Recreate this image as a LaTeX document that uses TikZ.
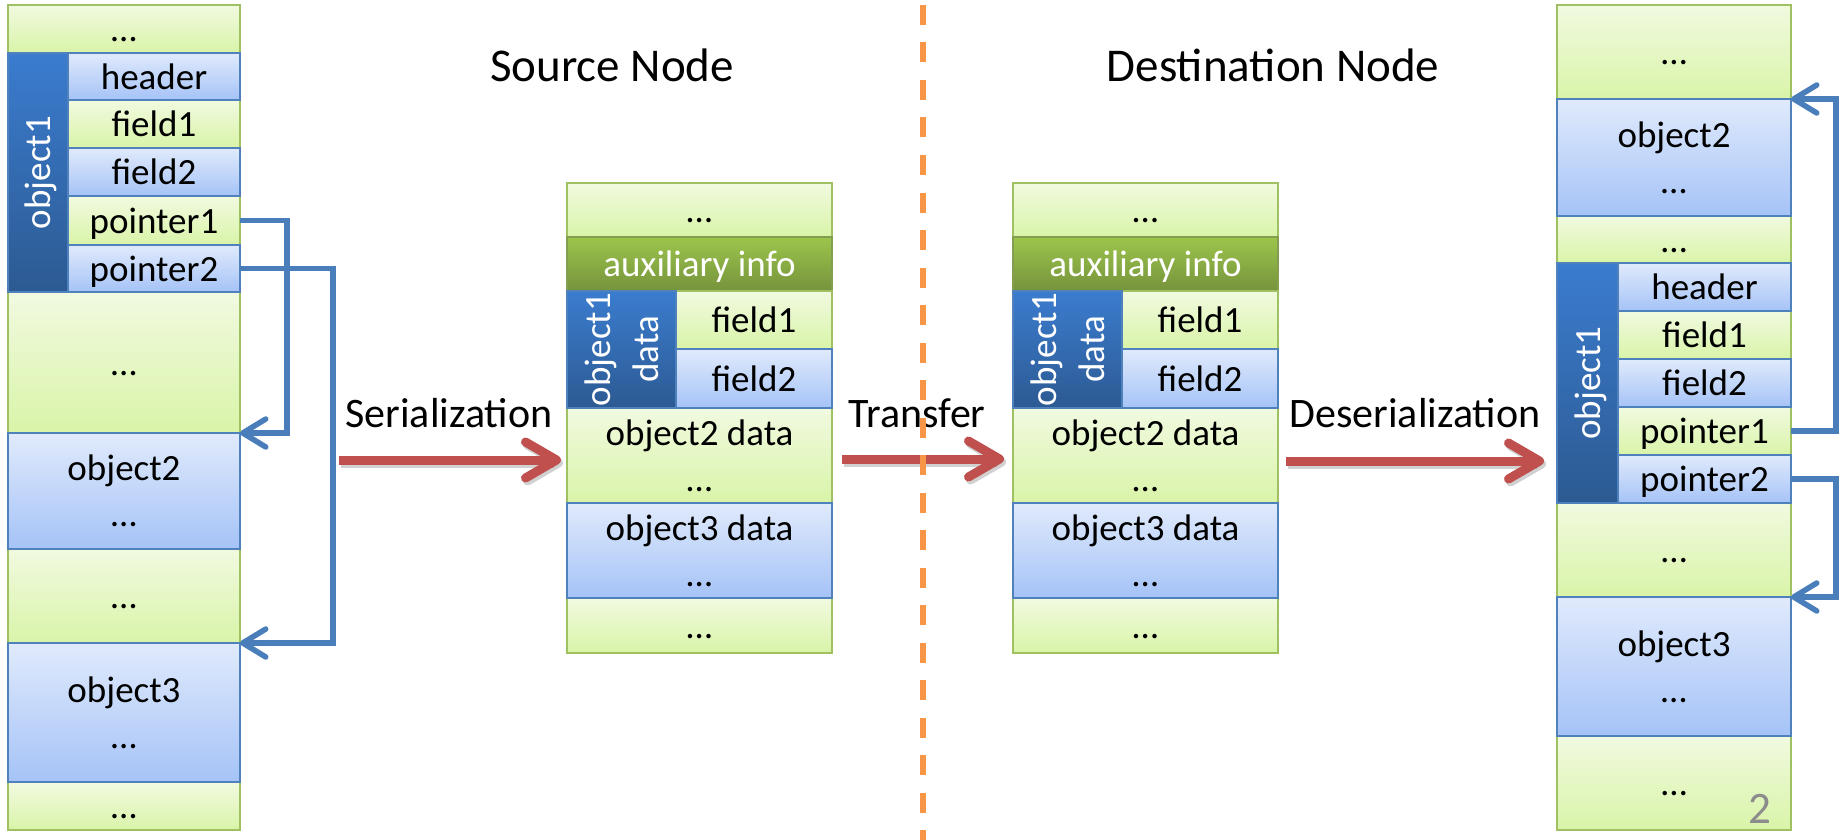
\documentclass[tikz,border=0pt]{standalone}
\usepackage{fontspec}
\setmainfont{Carlito}
\usetikzlibrary{arrows.meta}

\definecolor{grnTop}{HTML}{F1FAE0}
\definecolor{grnBot}{HTML}{D9F4A8}
\definecolor{grnLine}{HTML}{9FC161}
\definecolor{bluTop}{HTML}{E0EAFC}
\definecolor{bluBot}{HTML}{A5C3F7}
\definecolor{bluLine}{HTML}{4F81BD}
\definecolor{objTop}{HTML}{3B7CCF}
\definecolor{objBot}{HTML}{2C5A92}
\definecolor{auxTop}{HTML}{9CC54B}
\definecolor{auxBot}{HTML}{76933C}
\definecolor{arrRed}{HTML}{C0504D}
\definecolor{ptrBlue}{HTML}{4A7EBB}
\definecolor{sepOrange}{HTML}{F79646}
\definecolor{pageGray}{HTML}{8C8C8C}

% strut giving every text line the same ascent and descent
\newcommand\cs{\rule[-0.27em]{0pt}{1.22em}}

% a memory cell given by its corners: style, name, x1, y1, x2, y2, text
\newcommand\mcell[7]{%
  \pgfmathsetmacro\cellw{#5-#3}%
  \pgfmathsetmacro\cellh{#6-#4}%
  \node[#1, minimum width=\cellw pt, minimum height=\cellh pt]
    (#2) at ({(#3+#5)/2},{(#4+#6)/2}) {#7};}

\tikzset{
  cellbase/.style={draw, line width=2pt, inner sep=0pt, outer sep=0pt,
    font=\fontsize{37}{46}\selectfont, align=center},
  grn/.style={cellbase, top color=grnTop, bottom color=grnBot, draw=grnLine},
  blu/.style={cellbase, top color=bluTop, bottom color=bluBot, draw=bluLine},
  aux/.style={cellbase, top color=auxTop, bottom color=auxBot, draw=auxBot!90!white, text=white},
  side/.style={cellbase, top color=objTop, bottom color=objBot, draw=bluLine},
  sidetext/.style={rotate=90, text=white, font=\fontsize{37}{48}\selectfont,
    align=center, inner sep=0pt},
  ptrline/.style={draw=ptrBlue, line width=5.5pt, line join=miter,
    -{Straight Barb[length=23pt,width=28pt,round]}},
  xfer/.style={draw=arrRed, line width=9pt,
    -{Straight Barb[length=31pt,width=36pt,round]}},
  xshadow/.style={draw=black, opacity=0.18, line width=9pt,
    -{Straight Barb[length=31pt,width=36pt,round]},
    transform canvas={shift={(2pt,-3pt)}}},
  lbl/.style={font=\fontsize{42}{50}\selectfont, inner sep=0pt, anchor=base},
  ttl/.style={font=\fontsize{47}{56}\selectfont, inner sep=0pt, anchor=base},
  sep/.style={draw=sepOrange, line width=5.5pt, dash pattern=on 20pt off 17.5pt},
}

\begin{document}
\begin{tikzpicture}[x=1pt, y=-1pt]
\useasboundingbox (0,0) rectangle (1841,840);

% ---------- source memory ----------
\mcell{grn}{L0}{8}{5}{240}{53}{\cs …}
\mcell{grn}{Lf1}{68}{100}{240}{148}{\cs field1}
\mcell{grn}{Lp1}{68}{196}{240}{245}{\cs pointer1}
\mcell{grn}{L1}{8}{292}{240}{433}{\cs …}
\mcell{grn}{L2}{8}{549}{240}{643}{\cs …}
\mcell{grn}{L3}{8}{782}{240}{830}{\cs …}
\mcell{blu}{Lh}{68}{53}{240}{100}{\cs header}
\mcell{blu}{Lf2}{68}{148}{240}{196}{\cs field2}
\mcell{blu}{Lp2}{68}{245}{240}{292}{\cs pointer2}
\mcell{blu}{Lo2}{8}{433}{240}{549}{\cs object2\\\cs …}
\mcell{blu}{Lo3}{8}{643}{240}{782}{\cs object3\\\cs …}
\mcell{side}{Ls}{8}{53}{68}{292}{}
\node[sidetext] (LsT) at (Ls) {\cs object1};

% ---------- serialized buffer, source side ----------
\mcell{grn}{S0}{567}{183}{832}{237}{\cs …}
\mcell{aux}{Sa}{567}{237}{832}{291}{\cs auxiliary info}
\mcell{grn}{Sf1}{676}{291}{832}{349}{\cs field1}
\mcell{grn}{So2}{567}{408}{832}{503}{\cs object2 data\\\cs …}
\mcell{grn}{S1}{567}{598}{832}{653}{\cs …}
\mcell{blu}{Sf2}{676}{349}{832}{408}{\cs field2}
\mcell{blu}{So3}{567}{503}{832}{598}{\cs object3 data\\\cs …}
\mcell{side}{Ss}{567}{291}{676}{408}{}
\node[sidetext] (SsT) at (Ss) {\cs object1\\\cs data};

% ---------- serialized buffer, destination side ----------
\mcell{grn}{D0}{1013}{183}{1278}{237}{\cs …}
\mcell{aux}{Da}{1013}{237}{1278}{291}{\cs auxiliary info}
\mcell{grn}{Df1}{1122}{291}{1278}{349}{\cs field1}
\mcell{grn}{Do2}{1013}{408}{1278}{503}{\cs object2 data\\\cs …}
\mcell{grn}{D1}{1013}{598}{1278}{653}{\cs …}
\mcell{blu}{Df2}{1122}{349}{1278}{408}{\cs field2}
\mcell{blu}{Do3}{1013}{503}{1278}{598}{\cs object3 data\\\cs …}
\mcell{side}{Ds}{1013}{291}{1122}{408}{}
\node[sidetext] (DsT) at (Ds) {\cs object1\\\cs data};

% ---------- destination memory ----------
\mcell{grn}{R0}{1557}{5}{1791}{99}{\cs …}
\mcell{grn}{R1}{1557}{216}{1791}{263}{\cs …}
\mcell{grn}{Rf1}{1618}{311}{1791}{359}{\cs field1}
\mcell{grn}{Rp1}{1618}{407}{1791}{455}{\cs pointer1}
\mcell{grn}{R2}{1557}{503}{1791}{597}{\cs …}
\mcell{grn}{R3}{1557}{736}{1791}{830}{\cs …}
\mcell{blu}{Ro2}{1557}{99}{1791}{216}{\cs object2\\\cs …}
\mcell{blu}{Rh}{1618}{263}{1791}{311}{\cs header}
\mcell{blu}{Rf2}{1618}{359}{1791}{407}{\cs field2}
\mcell{blu}{Rp2}{1618}{455}{1791}{503}{\cs pointer2}
\mcell{blu}{Ro3}{1557}{597}{1791}{736}{\cs object3\\\cs …}
\mcell{side}{Rs}{1557}{263}{1618}{503}{}
\node[sidetext] (RsT) at (Rs) {\cs object1};

% ---------- pointers ----------
\draw[ptrline] (Lp1.east) -- ++(47,0) |- (Lo2.north east);
\draw[ptrline] (Lp2.east) -- ++(93,0) |- (Lo3.north east);
\draw[ptrline] (Rp1.east) -- ++(45,0) |- (Ro2.north east);
\draw[ptrline] (Rp2.east) -- ++(45,0) |- (Ro3.north east);

% ---------- process arrows ----------
\coordinate (serS) at (339,460);
\coordinate (trY) at (0,459);
\coordinate (dsY) at (0,461);
\draw[xshadow, shorten >=6pt] (serS) -- (serS -| So2.west);
\draw[xshadow, shorten <=10pt, shorten >=9pt] (trY -| So2.east) -- (trY -| Do2.west);
\draw[xshadow, shorten <=8pt, shorten >=13pt] (dsY -| Do2.east) -- (dsY -| Rs.west);
\draw[xfer, shorten >=6pt] (serS) -- (serS -| So2.west);
\draw[xfer, shorten <=10pt, shorten >=9pt] (trY -| So2.east) -- (trY -| Do2.west);
\draw[xfer, shorten <=8pt, shorten >=13pt] (dsY -| Do2.east) -- (dsY -| Rs.west);

\node[lbl] (serL) at (449,427) {Serialization};
\node[lbl] (trL) at (917,427) {Transfer};
\node[lbl] (dsL) at (1415,427) {Deserialization};

% ---------- titles ----------
\node[ttl] (srcT) at (612,82) {Source Node};
\node[ttl] (dstT) at (1273,82) {Destination Node};

% ---------- node boundary ----------
\coordinate (sepTop) at (923,5);
\coordinate (sepBot) at (923,840);
\draw[sep] (sepTop) -- (sepBot);

% ---------- page number ----------
\node[font=\fontsize{45}{54}\selectfont, text=pageGray, inner sep=0pt, anchor=base]
  (pgno) at (1760,823) {2};
\end{tikzpicture}
\end{document}
